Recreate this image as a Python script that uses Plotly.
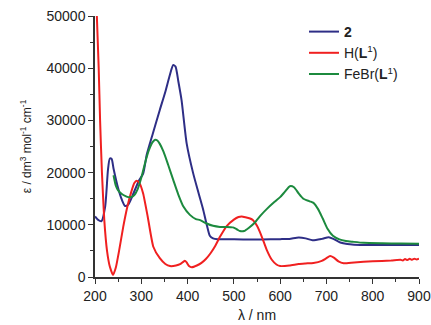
import plotly.graph_objects as go

# Compound 2
wl_2 = [200, 206, 214, 222, 228, 232, 236, 240, 250, 258, 265, 272, 283, 295, 304, 312, 325, 340, 352, 362, 369, 374, 380, 387, 398, 412, 424, 434, 442, 448, 455, 465, 480, 520, 560, 600, 620, 640, 655, 670, 690, 705, 715, 730, 745, 760, 800, 850, 900]
eps_2 = [11600, 11000, 10700, 13500, 20500, 22700, 22600, 20800, 17000, 14800, 13600, 13900, 16000, 18500, 19800, 23500, 27500, 32000, 35500, 38800, 40600, 40300, 37500, 33900, 25600, 19900, 16000, 12800, 9800, 7900, 7400, 7250, 7250, 7200, 7200, 7250, 7300, 7550, 7400, 7050, 7300, 7600, 7300, 6600, 6300, 6200, 6150, 6150, 6150]

# H(L1)
wl_h = [200, 204, 208, 211, 215, 220, 226, 232, 239, 245, 252, 261, 270, 279, 285, 290, 296, 304, 314, 326, 340, 352, 362, 375, 385, 394, 398, 403, 409, 420, 430, 440, 450, 460, 470, 485, 500, 510, 517, 525, 535, 541, 550, 560, 571, 582, 592, 600, 620, 640, 655, 672, 690, 700, 708, 716, 726, 737, 760, 800, 840, 860, 865, 870, 875, 880, 885, 890, 895, 900]
eps_h = [62000, 50000, 40000, 30000, 20000, 11000, 5000, 2000, 400, 1800, 5000, 9600, 13500, 16500, 18000, 18450, 18000, 16000, 11500, 5800, 3600, 2500, 2100, 2200, 2500, 3100, 2800, 2100, 1850, 2200, 2700, 3500, 4600, 6000, 7700, 9800, 11000, 11500, 11600, 11450, 11200, 10900, 9800, 7800, 5200, 3300, 2400, 2100, 2200, 2500, 2600, 2700, 3100, 3600, 4000, 3700, 3000, 2650, 2800, 3000, 3150, 3300, 3150, 3450, 3250, 3500, 3300, 3500, 3350, 3500]

# FeBr(L1)
wl_fe = [240, 245, 250, 258, 266, 272, 278, 285, 292, 300, 308, 316, 324, 330, 334, 340, 348, 358, 369, 380, 391, 405, 418, 427, 440, 455, 470, 485, 498, 507, 513, 522, 532, 545, 558, 572, 588, 600, 610, 621, 630, 640, 650, 664, 672, 682, 692, 702, 714, 728, 742, 757, 780, 820, 860, 900]
eps_fe = [19500, 17500, 16600, 15900, 15500, 15300, 15300, 15700, 16800, 19000, 21800, 24200, 25800, 26300, 26200, 25500, 24000, 21500, 18600, 15800, 13500, 11900, 11100, 10900, 10300, 9800, 9600, 9600, 9500, 9100, 8800, 8800, 9400, 10400, 11800, 13100, 14400, 15300, 16300, 17400, 17200, 16000, 15000, 14500, 14200, 13000, 11200, 9300, 7900, 7200, 6900, 6750, 6550, 6450, 6400, 6350]

x_ticks = [200, 300, 400, 500, 600, 700, 800, 900]
x_labels = ["200", "300", "400", "500", "600", "700", "800", "900"]
y_ticks = [0, 10000, 20000, 30000, 40000, 50000]
y_labels = ["0", "10000", "20000", "30000", "40000", "50000"]

fig = go.Figure()
fig.add_trace(go.Scatter(x=wl_2, y=eps_2, mode="lines", name="<b>2</b>",
                         line=dict(color="#2e2e86", width=2, shape="spline", smoothing=0.6)))
fig.add_trace(go.Scatter(x=wl_h, y=eps_h, mode="lines", name="H(<b>L</b><sup>1</sup>)",
                         line=dict(color="#f02020", width=2, shape="spline", smoothing=0.5)))
fig.add_trace(go.Scatter(x=wl_fe, y=eps_fe, mode="lines", name="FeBr(<b>L</b><sup>1</sup>)",
                         line=dict(color="#1c8a3e", width=2, shape="spline", smoothing=0.6)))

font = "Liberation Sans, Arial, sans-serif"
fig.update_layout(
    width=431, height=325,
    margin=dict(l=95, r=12, t=16, b=48),
    paper_bgcolor="white", plot_bgcolor="white",
    font=dict(family=font, size=14, color="#222"),
    showlegend=True,
    legend=dict(x=0.645, y=1.0, xanchor="left", yanchor="top",
                bgcolor="rgba(0,0,0,0)", borderwidth=0,
                font=dict(size=14, family=font, color="#222"),
                itemwidth=30, tracegroupgap=0),
    xaxis=dict(range=[200, 900], tickvals=x_ticks, ticktext=x_labels, ticks="outside", ticklen=5,
               tickwidth=1.2, tickcolor="#333", ticklabeloverflow="allow", automargin=False,
               showline=True, linecolor="#333", linewidth=1.5, showgrid=False, zeroline=False,
               minor=dict(dtick=50, ticks="outside", ticklen=3, tickcolor="#333", tickwidth=1, showgrid=False),
               title=dict(text="λ / nm", font=dict(size=14), standoff=8),
               tickfont=dict(size=14)),
    yaxis=dict(range=[0, 50000], tickvals=y_ticks, ticktext=y_labels, ticks="outside", ticklen=5,
               tickwidth=1.2, tickcolor="#333", automargin=False,
               showline=True, linecolor="#333", linewidth=1.5, showgrid=False, zeroline=False,
               minor=dict(dtick=5000, ticks="outside", ticklen=3, tickcolor="#333", tickwidth=1, showgrid=False),
               title=dict(text="ε / dm<sup>3</sup> mol<sup>-1</sup> cm<sup>-1</sup>", font=dict(size=12), standoff=12),
               tickfont=dict(size=14)),
)

fig.write_html("out.html", config={"displayModeBar": False},
               post_script="document.body.style.margin='0px';")
